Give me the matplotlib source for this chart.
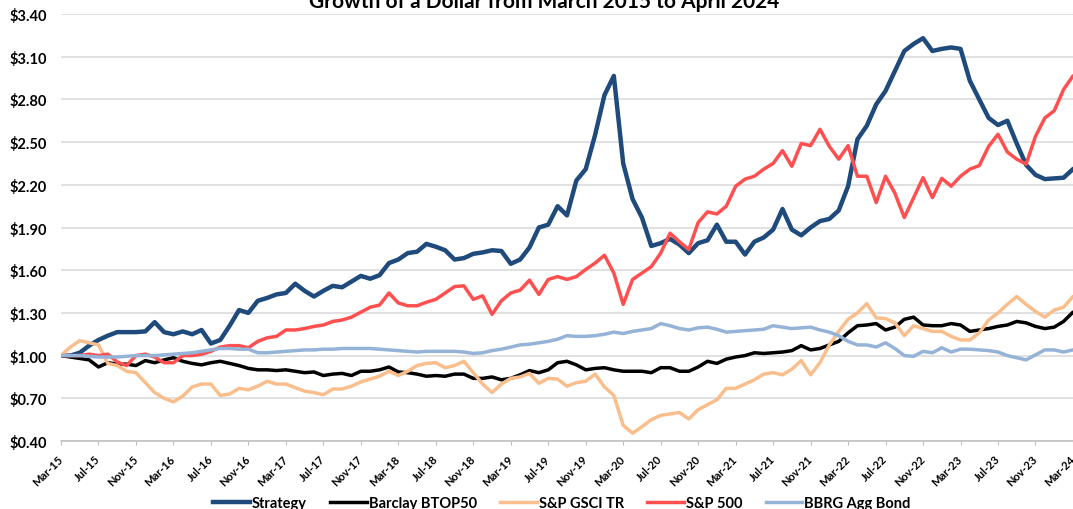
import numpy as np
import pandas as pd
import matplotlib
matplotlib.use("Agg")
import matplotlib.pyplot as plt
from matplotlib.ticker import FuncFormatter

plt.rcParams["font.family"] = ["Lato", "DejaVu Sans"]
plt.rcParams["font.weight"] = "bold"

# monthly categories, Mar-15 .. Apr-24
months = pd.date_range("2015-03-01", "2024-04-01", freq="MS").strftime("%b-%y").tolist()

strategy = [
    1.00, 1.00, 1.02, 1.07, 1.11, 1.14, 1.165, 1.165, 1.165, 1.17,
    1.235, 1.165, 1.15, 1.17, 1.15, 1.18, 1.085, 1.11, 1.21, 1.32,
    1.30, 1.385, 1.405, 1.43, 1.44, 1.505, 1.455, 1.415, 1.455, 1.49,
    1.48, 1.52, 1.56, 1.54, 1.565, 1.65, 1.675, 1.72, 1.73, 1.785,
    1.765, 1.74, 1.675, 1.685, 1.715, 1.725, 1.74, 1.735, 1.645, 1.675,
    1.76, 1.90, 1.92, 2.05, 1.985, 2.23, 2.31, 2.55, 2.83, 2.965,
    2.35, 2.10, 1.97, 1.77, 1.79, 1.82, 1.78, 1.72, 1.79, 1.81,
    1.92, 1.80, 1.80, 1.71, 1.80, 1.83, 1.885, 2.03, 1.885, 1.845,
    1.90, 1.945, 1.96, 2.02, 2.19, 2.52, 2.615, 2.765, 2.86, 3.00,
    3.14, 3.19, 3.23, 3.14, 3.155, 3.165, 3.155, 2.93, 2.80, 2.67,
    2.62, 2.65, 2.49, 2.34, 2.27, 2.24, 2.245, 2.25, 2.31, 2.35,
]
btop50 = [
    1.00, 0.99, 0.98, 0.97, 0.92, 0.95, 0.94, 0.94, 0.93, 0.965,
    0.95, 0.97, 0.985, 0.96, 0.945, 0.935, 0.95, 0.96, 0.945, 0.93,
    0.91, 0.90, 0.90, 0.895, 0.90, 0.89, 0.88, 0.885, 0.86, 0.87,
    0.875, 0.86, 0.89, 0.89, 0.90, 0.92, 0.885, 0.88, 0.87, 0.855,
    0.86, 0.855, 0.87, 0.87, 0.84, 0.84, 0.85, 0.83, 0.84, 0.865,
    0.895, 0.88, 0.90, 0.95, 0.96, 0.935, 0.90, 0.91, 0.915, 0.90,
    0.89, 0.89, 0.89, 0.88, 0.915, 0.915, 0.89, 0.89, 0.92, 0.96,
    0.945, 0.975, 0.99, 1.00, 1.02, 1.015, 1.02, 1.025, 1.035, 1.07,
    1.04, 1.05, 1.075, 1.10, 1.16, 1.21, 1.215, 1.225, 1.18, 1.20,
    1.255, 1.27, 1.215, 1.21, 1.21, 1.225, 1.215, 1.17, 1.18, 1.19,
    1.205, 1.215, 1.24, 1.23, 1.205, 1.19, 1.20, 1.24, 1.305, 1.31,
]
gsci = [
    1.00, 1.06, 1.105, 1.09, 1.075, 0.945, 0.93, 0.89, 0.88, 0.81,
    0.74, 0.70, 0.675, 0.715, 0.78, 0.80, 0.80, 0.72, 0.73, 0.77,
    0.76, 0.785, 0.82, 0.80, 0.80, 0.775, 0.75, 0.74, 0.725, 0.765,
    0.765, 0.785, 0.815, 0.835, 0.855, 0.89, 0.86, 0.89, 0.93, 0.945,
    0.95, 0.915, 0.93, 0.96, 0.88, 0.80, 0.74, 0.80, 0.84, 0.85,
    0.875, 0.805, 0.84, 0.835, 0.785, 0.81, 0.82, 0.87, 0.78, 0.72,
    0.51, 0.455, 0.50, 0.55, 0.58, 0.59, 0.60, 0.555, 0.62, 0.655,
    0.69, 0.77, 0.77, 0.80, 0.83, 0.87, 0.88, 0.865, 0.905, 0.965,
    0.865, 0.95, 1.075, 1.17, 1.255, 1.30, 1.365, 1.265, 1.26, 1.23,
    1.14, 1.21, 1.19, 1.17, 1.17, 1.135, 1.11, 1.11, 1.16, 1.25,
    1.30, 1.36, 1.415, 1.36, 1.31, 1.27, 1.32, 1.34, 1.415, 1.44,
]
sp500 = [
    1.00, 1.00, 1.00, 1.01, 1.00, 1.01, 0.955, 0.93, 1.00, 1.01,
    0.99, 0.95, 0.95, 1.00, 1.00, 1.01, 1.03, 1.06, 1.07, 1.07,
    1.055, 1.10, 1.125, 1.135, 1.18, 1.18, 1.19, 1.205, 1.215, 1.24,
    1.25, 1.27, 1.305, 1.34, 1.355, 1.44, 1.37, 1.35, 1.35, 1.375,
    1.395, 1.44, 1.485, 1.49, 1.395, 1.42, 1.29, 1.385, 1.44, 1.46,
    1.53, 1.43, 1.535, 1.555, 1.535, 1.555, 1.605, 1.65, 1.705, 1.58,
    1.36, 1.535, 1.58, 1.625, 1.72, 1.86, 1.80, 1.745, 1.935, 2.01,
    1.995, 2.05, 2.19, 2.24, 2.26, 2.31, 2.35, 2.44, 2.33, 2.49,
    2.475, 2.59, 2.47, 2.38, 2.475, 2.26, 2.26, 2.075, 2.26, 2.14,
    1.97, 2.11, 2.25, 2.11, 2.245, 2.19, 2.26, 2.31, 2.335, 2.47,
    2.555, 2.43, 2.38, 2.345, 2.54, 2.67, 2.72, 2.87, 2.965, 2.85,
]
agg_bond = [
    1.00, 1.00, 1.00, 0.995, 0.99, 0.99, 0.99, 0.995, 1.00, 1.00,
    1.00, 1.005, 1.01, 1.015, 1.02, 1.03, 1.04, 1.05, 1.05, 1.045,
    1.045, 1.02, 1.02, 1.025, 1.03, 1.035, 1.04, 1.04, 1.045, 1.045,
    1.05, 1.05, 1.05, 1.05, 1.045, 1.04, 1.035, 1.03, 1.025, 1.03,
    1.03, 1.03, 1.03, 1.025, 1.015, 1.02, 1.035, 1.045, 1.06, 1.075,
    1.08, 1.09, 1.10, 1.115, 1.14, 1.135, 1.135, 1.14, 1.15, 1.165,
    1.155, 1.17, 1.18, 1.19, 1.225, 1.21, 1.19, 1.18, 1.195, 1.20,
    1.185, 1.165, 1.17, 1.175, 1.18, 1.185, 1.21, 1.20, 1.19, 1.195,
    1.20, 1.18, 1.165, 1.14, 1.10, 1.075, 1.075, 1.06, 1.09, 1.05,
    1.00, 0.995, 1.03, 1.02, 1.055, 1.025, 1.045, 1.045, 1.04, 1.035,
    1.025, 1.00, 0.985, 0.97, 1.005, 1.04, 1.04, 1.025, 1.04, 1.02,
]

series = [
    ("Strategy", strategy, "#1F4A7C", 3.2),
    ("Barclay BTOP50", btop50, "#000000", 2.5),
    ("S&P GSCI TR", gsci, "#F9BE8C", 2.5),
    ("S&P 500", sp500, "#FF4F4F", 2.5),
    ("BBRG Agg Bond", agg_bond, "#95B3D7", 2.5),
]

W, H = 1073, 510
fig = plt.figure(figsize=(W / 100, H / 100), dpi=100)
# plot area runs past the right edge of the picture (cropped like the reference)
x_end = 61 + 109 * 9.37
ax = fig.add_axes([61 / W, (H - 442) / H, (x_end - 61) / W, (442 - 15) / H])

x = np.arange(len(months))
for name, vals, color, lw in series:
    ax.plot(x, vals, color=color, lw=lw, label=name, solid_joinstyle="round")

ax.set_xlim(0, len(months) - 1)
ax.set_ylim(0.4, 3.4)
ax.set_yticks(np.arange(0.4, 3.41, 0.3))
ax.yaxis.set_major_formatter(FuncFormatter(lambda v, p: f"${v:.2f}"))
ax.set_xticks(x[::4])
ax.set_xticklabels(months[::4], rotation=45, ha="right", va="center",
                   rotation_mode="anchor")

ax.grid(axis="y", color="#D9D9D9", lw=1.1)
ax.set_axisbelow(True)
for s in ["top", "right", "left"]:
    ax.spines[s].set_visible(False)
ax.spines["bottom"].set_color("#BFBFBF")
ax.spines["bottom"].set_linewidth(1.1)
ax.tick_params(axis="y", length=0, pad=10, labelsize=10.5)
ax.tick_params(axis="x", length=3, color="#BFBFBF", pad=8.5, labelsize=8)

fig.text(544.5 / W, 1 - 7.5 / H, "Growth of a Dollar from March 2015 to April 2024",
         ha="center", va="baseline", fontsize=15, fontweight="bold")

fig.legend(loc="center", bbox_to_anchor=(562 / W, 1 - 504 / H), ncol=5,
           frameon=False, fontsize=10.5, handlelength=2.5, handletextpad=0.15,
           columnspacing=1.6)

fig.savefig("out.png", dpi=100)
